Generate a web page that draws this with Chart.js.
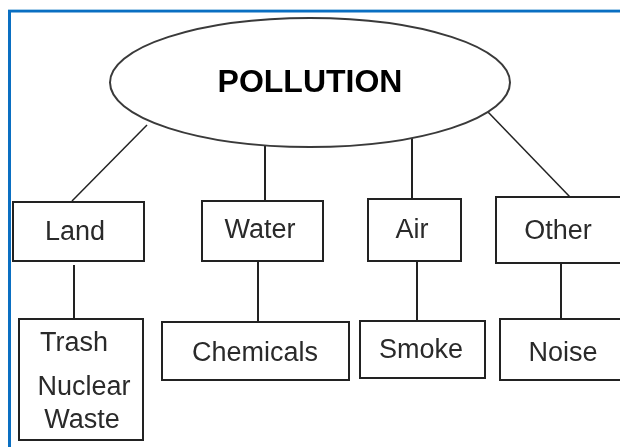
<!DOCTYPE html>
<html>
<head>
<meta charset="utf-8">
<script src="https://cdn.jsdelivr.net/npm/chart.js@4"></script>
<style>
html,body{margin:0;padding:0;background:#fff;}
#wrap{width:620px;height:447px;position:relative;}
</style>
</head>
<body>
<div id="wrap"><canvas id="c" width="620" height="447"></canvas></div>
<script>
// ---- content (hierarchy) ----
const rootLabel = 'POLLUTION';
const categories = ['Land', 'Water', 'Air', 'Other'];
const examples = [['Trash', 'Nuclear', 'Waste'], ['Chemicals'], ['Smoke'], ['Noise']];

// ---- layout in data units (scale 0..620 x 0..447) ----
const rootShape = { cx: 310, cy: 82.5, rx: 200, ry: 64.5, baseline: 92 };
const categoryBoxes = [[13, 202, 144, 261], [202, 201, 323, 261], [368, 199, 461, 261], [496, 197, 630, 263]];
const categoryText = [[75, 240], [260, 238], [412, 238], [558, 239]];
const exampleBoxes = [[19, 319, 143, 440], [162, 322, 349, 380], [360, 321, 485, 378], [500, 319, 630, 380]];
const exampleText = [[[74, 351], [84, 395], [82, 428]], [[255, 361]], [[421, 358]], [[563, 361]]];
const rootLinks = [[[147, 125], [72, 201]], [[265, 146], [265, 201]], [[412, 138], [412, 199]], [[488, 112], [570, 197]]];
const childLinks = [[[74, 265], [74, 319]], [[258, 261], [258, 322]], [[417, 261], [417, 321]], [[561, 263], [561, 319]]];

const datasets = [];
rootLinks.forEach((l, i) => datasets.push({
  label: 'link-' + categories[i],
  data: l.map(p => ({ x: p[0], y: p[1] })),
  showLine: true, borderColor: '#222', borderWidth: (l[0][0] === l[1][0]) ? 2 : 1.5,
  pointRadius: 0, fill: false
}));
childLinks.forEach((l, i) => datasets.push({
  label: 'sub-' + categories[i],
  data: l.map(p => ({ x: p[0], y: p[1] })),
  showLine: true, borderColor: '#222', borderWidth: 2,
  pointRadius: 0, fill: false
}));

const diagramPlugin = {
  id: 'diagram',
  beforeDraw(chart) {
    const ctx = chart.ctx;
    ctx.save();
    ctx.fillStyle = '#fff';
    ctx.fillRect(0, 0, chart.width, chart.height);
    // blue frame
    ctx.fillStyle = 'rgba(0,112,192,0.35)';
    ctx.fillRect(8, 9, chart.width - 8, 1);
    ctx.fillStyle = '#0a6fc2';
    ctx.fillRect(8, 10, chart.width - 8, 2.5);
    ctx.fillRect(8, 10, 3, chart.height - 10);
    ctx.restore();
  },
  afterDatasetsDraw(chart) {
    const ctx = chart.ctx;
    const X = v => chart.scales.x.getPixelForValue(v);
    const Y = v => chart.scales.y.getPixelForValue(v);
    ctx.save();
    // root ellipse
    const cx = X(rootShape.cx), cy = Y(rootShape.cy);
    const rx = X(rootShape.cx + rootShape.rx) - cx, ry = Math.abs(Y(rootShape.cy + rootShape.ry) - cy);
    ctx.beginPath();
    ctx.ellipse(cx, cy, rx, ry, 0, 0, Math.PI * 2);
    ctx.fillStyle = '#fff';
    ctx.fill();
    ctx.lineWidth = 2;
    ctx.strokeStyle = '#3a3a3a';
    ctx.stroke();
    ctx.fillStyle = '#000';
    ctx.textAlign = 'center';
    ctx.textBaseline = 'alphabetic';
    ctx.font = 'bold 32px "Liberation Sans", Arial, sans-serif';
    ctx.fillText(rootLabel, cx, Y(rootShape.baseline));
    // boxes
    const drawBox = b => {
      const x1 = X(b[0]), y1 = Y(b[1]), x2 = X(b[2]), y2 = Y(b[3]);
      ctx.fillStyle = '#fff';
      ctx.fillRect(x1, y1, x2 - x1, y2 - y1);
      ctx.lineWidth = 2;
      ctx.strokeStyle = '#222';
      ctx.strokeRect(x1, y1, x2 - x1, y2 - y1);
    };
    ctx.font = '27px "Liberation Sans", Arial, sans-serif';
    categories.forEach((c, i) => {
      drawBox(categoryBoxes[i]);
      ctx.fillStyle = '#2a2a2a';
      ctx.fillText(c, X(categoryText[i][0]), Y(categoryText[i][1]));
    });
    examples.forEach((lines, i) => {
      drawBox(exampleBoxes[i]);
      ctx.fillStyle = '#2a2a2a';
      lines.forEach((t, j) => ctx.fillText(t, X(exampleText[i][j][0]), Y(exampleText[i][j][1])));
    });
    ctx.restore();
  }
};

new Chart(document.getElementById('c'), {
  type: 'scatter',
  data: { datasets },
  options: {
    responsive: false,
    animation: false,
    layout: { padding: 0 },
    plugins: { legend: { display: false }, tooltip: { enabled: false } },
    scales: {
      x: { type: 'linear', min: 0, max: 620, display: false },
      y: { type: 'linear', min: 0, max: 447, reverse: true, display: false }
    }
  },
  plugins: [diagramPlugin]
});
</script>
</body>
</html>
